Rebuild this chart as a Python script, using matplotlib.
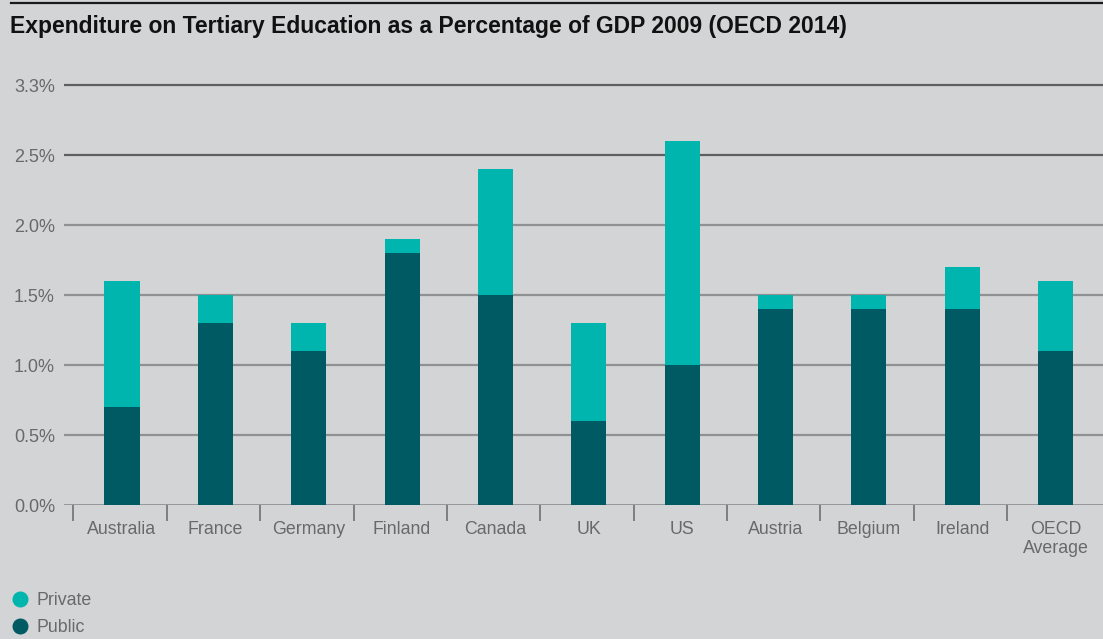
import matplotlib
matplotlib.use("Agg")
import matplotlib.pyplot as plt
from matplotlib.lines import Line2D
import numpy as np

plt.rcParams['font.family'] = ['Liberation Sans', 'DejaVu Sans']

categories = ["Australia", "France", "Germany", "Finland", "Canada", "UK", "US",
              "Austria", "Belgium", "Ireland", "OECD\nAverage"]
public = [0.7, 1.3, 1.1, 1.8, 1.5, 0.6, 1.0, 1.4, 1.4, 1.4, 1.1]
total = [1.6, 1.5, 1.3, 1.9, 2.4, 1.3, 2.6, 1.5, 1.5, 1.7, 1.6]
private = [t - p for t, p in zip(total, public)]
ytick_values = [0.0, 0.5, 1.0, 1.5, 2.0, 2.5, 3.0]
ytick_labels = ["0.0%", "0.5%", "1.0%", "1.5%", "2.0%", "2.5%", "3.3%"]
title = "Expenditure on Tertiary Education as a Percentage of GDP 2009 (OECD 2014)"

BG = "#d3d4d6"
C_PRIV = "#00b5ae"
C_PUB = "#005a64"
TXT = "#68696b"

W, H = 1103, 639
fig = plt.figure(figsize=(W / 100, H / 100), dpi=100, facecolor=BG)

# axes geometry in pixels
left_px, right_px = 64, 1103
bottom_px, top_px = 505, 71
ax = fig.add_axes([left_px / W, (H - bottom_px) / H, (right_px - left_px) / W, (bottom_px - top_px) / H])
ax.set_facecolor(BG)

cat_w = 93.35
center0_px = 122.0
x0 = -(center0_px - left_px) / cat_w
x1 = x0 + (right_px - left_px) / cat_w
ax.set_xlim(x0, x1)
ax.set_ylim(0, 3.1)

x = np.arange(len(categories))
bw = 0.375
ax.bar(x, public, width=bw, color=C_PUB, zorder=3)
ax.bar(x, private, width=bw, bottom=public, color=C_PRIV, zorder=3)

# gridlines
for v in ytick_values:
    col = "#5e5f61" if v >= 2.5 else "#909193"
    ax.axhline(v, color=col, lw=1.6 if v > 0 else 2.0, zorder=1)

for s in ax.spines.values():
    s.set_visible(False)

ax.set_yticks(ytick_values)
ax.set_yticklabels(ytick_labels)
ax.tick_params(axis='y', length=0, pad=6.5, labelsize=13, labelcolor=TXT)

ax.set_xticks(x)
ax.set_xticklabels(categories)
for lbl in ax.get_xticklabels():
    lbl.set_linespacing(1.12)
ax.tick_params(axis='x', which='major', length=0, pad=11.5, labelsize=12.8, labelcolor=TXT)
ax.set_xticks(np.arange(-0.52, len(categories) - 1, 1.0), minor=True)
ax.tick_params(axis='x', which='minor', length=11.5, width=1.3, color="#77787a", direction='out')

# title and top rule
fig.text(10 / W, 1 - 27 / H, title, fontsize=16.5, fontweight='bold', color="#111111",
         ha='left', va='center')
fig.add_artist(Line2D([11 / W, 1.0], [1 - 3 / H, 1 - 3 / H], color="#1a1a1a", lw=1.6))

# legend
handles = [Line2D([], [], marker='o', ls='none', markersize=10.5, color=C_PRIV, label='Private'),
           Line2D([], [], marker='o', ls='none', markersize=10.5, color=C_PUB, label='Public')]
leg = fig.legend(handles=handles, loc='upper left', bbox_to_anchor=(9 / W, 1 - 592 / H),
                 frameon=False, fontsize=12.8, labelcolor=TXT, handletextpad=0.35,
                 labelspacing=0.58, handlelength=1.2, borderaxespad=0, borderpad=0)

fig.savefig("out.png", dpi=100, facecolor=BG)
